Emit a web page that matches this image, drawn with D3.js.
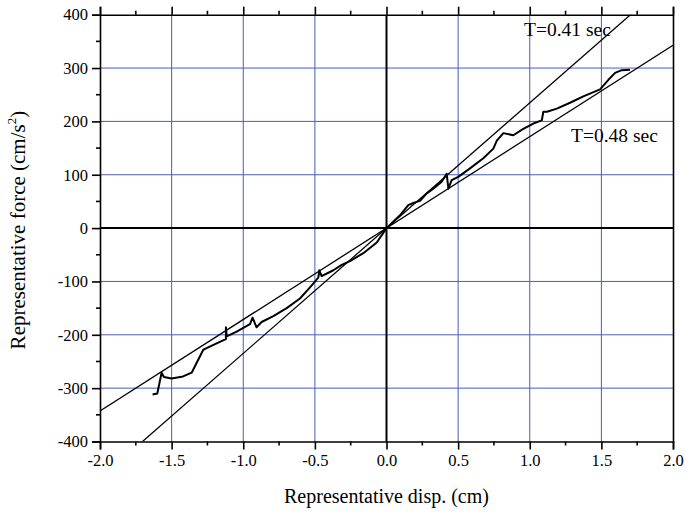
<!DOCTYPE html>
<html>
<head>
<meta charset="utf-8">
<script src="https://cdn.jsdelivr.net/npm/d3@7"></script>
<style>
  html, body { margin: 0; padding: 0; background: #fff; }
  svg { display: block; }
  text { font-family: "Liberation Serif", "Times New Roman", serif; fill: #000; }
</style>
</head>
<body>
<svg id="chart" width="686" height="513"></svg>
<script>
// ---- data ----
const dispValues = [-1.633, -1.600, -1.570, -1.554, -1.500, -1.420, -1.360, -1.279, -1.256, -1.186,
  -1.121, -1.121, -1.115, -1.046, -0.953, -0.935, -0.907, -0.872, -0.790, -0.697,
  -0.604, -0.534, -0.476, -0.469, -0.453, -0.371, -0.313, -0.255, -0.162, -0.068,
  0.000, 0.094, 0.152, 0.187, 0.234, 0.281, 0.327, 0.385, 0.420, 0.432,
  0.455, 0.501, 0.583, 0.676, 0.746, 0.770, 0.816, 0.885, 0.955, 1.025,
  1.084, 1.095, 1.120, 1.189, 1.281, 1.374, 1.491, 1.549, 1.596, 1.642, 1.700];
const forceValues = [-312, -310, -271, -279, -282, -278, -271, -228, -225, -216,
  -208, -186, -203, -194, -180, -168, -186, -176, -165, -150,
  -132, -111, -93, -79, -90, -79, -69, -62, -47, -27,
  0, 24, 43, 47, 51, 65, 74, 87, 102, 74,
  90, 96, 112, 131, 149, 164, 178, 174, 186, 196,
  202, 218, 218, 224, 235, 247, 260, 278, 291, 296, 297];
const periods = [0.41, 0.48];
const periodLabels = ["T=0.41 sec", "T=0.48 sec"];
const xTicks = [-2.0, -1.5, -1.0, -0.5, 0.0, 0.5, 1.0, 1.5, 2.0];
const yTicks = [-400, -300, -200, -100, 0, 100, 200, 300, 400];
const xMinorTicks = [-1.75, -1.25, -0.75, -0.25, 0.25, 0.75, 1.25, 1.75];
const yMinorTicks = [-350, -250, -150, -50, 50, 150, 250, 350];

// ---- layout ----
const svg = d3.select("#chart");
const pL = 100, pR = 673, pT = 14.7, pB = 441.5;
const x = d3.scaleLinear().domain([-2, 2]).range([pL, pR]);
const y = d3.scaleLinear().domain([-400, 400]).range([pB, pT]);
const gridColor = "#4a5cb5";
const serif = "'Liberation Serif', 'Times New Roman', serif";
const hy = s => s.replace("\u2212", "-");

svg.append("defs").append("clipPath").attr("id", "clip")
  .append("rect").attr("x", pL).attr("y", pT).attr("width", pR - pL).attr("height", pB - pT);

// grid
const grid = svg.append("g");
grid.selectAll("line.gx").data(xTicks.filter(d => d !== 0 && Math.abs(d) !== 2)).enter()
  .append("line").attr("x1", d => x(d)).attr("x2", d => x(d)).attr("y1", pT).attr("y2", pB)
  .attr("stroke", gridColor).attr("stroke-width", 1);
grid.selectAll("line.gy").data(yTicks.filter(d => d !== 0 && Math.abs(d) !== 400)).enter()
  .append("line").attr("y1", d => y(d)).attr("y2", d => y(d)).attr("x1", pL).attr("x2", pR)
  .attr("stroke", gridColor).attr("stroke-width", 1);

// zero lines
svg.append("line").attr("x1", x(0)).attr("x2", x(0)).attr("y1", pT).attr("y2", pB)
  .attr("stroke", "#000").attr("stroke-width", 2);
svg.append("line").attr("y1", y(0)).attr("y2", y(0)).attr("x1", pL).attr("x2", pR)
  .attr("stroke", "#000").attr("stroke-width", 2);

// period lines (slope = (2*pi/T)^2)
const plot = svg.append("g").attr("clip-path", "url(#clip)");
periods.forEach(T => {
  const k = Math.pow(2 * Math.PI / T, 2);
  plot.append("line").attr("x1", x(-2)).attr("y1", y(-2 * k)).attr("x2", x(2)).attr("y2", y(2 * k))
    .attr("stroke", "#000").attr("stroke-width", 1.3);
});

// curve
const pts = dispValues.map((d, i) => [d, forceValues[i]]);
plot.append("path").datum(pts)
  .attr("d", d3.line().x(d => x(d[0])).y(d => y(d[1])))
  .attr("fill", "none").attr("stroke", "#000").attr("stroke-width", 2).attr("stroke-linejoin", "round");

// axes
const axisW = 1.6;
const fmtX = d => hy(d3.format(".1f")(d));
const fmtY = d => hy(d3.format("d")(d));
const bottomAxis = svg.append("g").attr("transform", `translate(0,${pB})`)
  .call(d3.axisBottom(x).tickValues(xTicks).tickFormat(fmtX).tickSize(8).tickPadding(5));
bottomAxis.append("g").selectAll("line").data(xMinorTicks).enter().append("line")
  .attr("x1", d => x(d)).attr("x2", d => x(d)).attr("y1", 0).attr("y2", 4).attr("stroke", "#000").attr("stroke-width", axisW);

const topAxis = svg.append("g").attr("transform", `translate(0,${pT})`)
  .call(d3.axisTop(x).tickValues(xTicks).tickFormat("").tickSize(8));
topAxis.append("g").selectAll("line").data(xMinorTicks).enter().append("line")
  .attr("x1", d => x(d)).attr("x2", d => x(d)).attr("y1", 0).attr("y2", -4).attr("stroke", "#000").attr("stroke-width", axisW);

const leftAxis = svg.append("g").attr("transform", `translate(${pL},0)`)
  .call(d3.axisLeft(y).tickValues(yTicks).tickFormat(fmtY).tickSize(8).tickPadding(4));
leftAxis.append("g").selectAll("line").data(yMinorTicks).enter().append("line")
  .attr("y1", d => y(d)).attr("y2", d => y(d)).attr("x1", 0).attr("x2", -4).attr("stroke", "#000").attr("stroke-width", axisW);

const rightAxis = svg.append("g").attr("transform", `translate(${pR},0)`)
  .call(d3.axisRight(y).tickValues([]).tickSize(0));

[bottomAxis, topAxis, leftAxis, rightAxis].forEach(g => {
  g.attr("font-family", null);
  g.select(".domain").attr("stroke", "#000").attr("stroke-width", axisW);
  g.selectAll(".tick line").attr("stroke", "#000").attr("stroke-width", axisW);
  g.selectAll("text").style("font-family", serif).style("font-size", "16.5px").attr("fill", "#000");
});

// period labels
const labelPos = [[524, 36], [571, 142]];
periodLabels.forEach((t, i) => {
  svg.append("text").attr("x", labelPos[i][0]).attr("y", labelPos[i][1])
    .style("font-family", serif).style("font-size", "19.5px").text(t);
});

// axis titles
svg.append("text").attr("x", (pL + pR) / 2).attr("y", 503).attr("text-anchor", "middle")
  .style("font-family", serif).style("font-size", "20px").text("Representative disp. (cm)");
const yt = svg.append("text").attr("transform", `translate(25,${(pT + pB) / 2 + 2}) rotate(-90)`)
  .attr("text-anchor", "middle").style("font-family", serif).style("font-size", "21px");
yt.append("tspan").text("Representative force (cm/s");
yt.append("tspan").attr("dy", -9).style("font-size", "13px").text("2");
yt.append("tspan").attr("dy", 9).text(")");
</script>
</body>
</html>
